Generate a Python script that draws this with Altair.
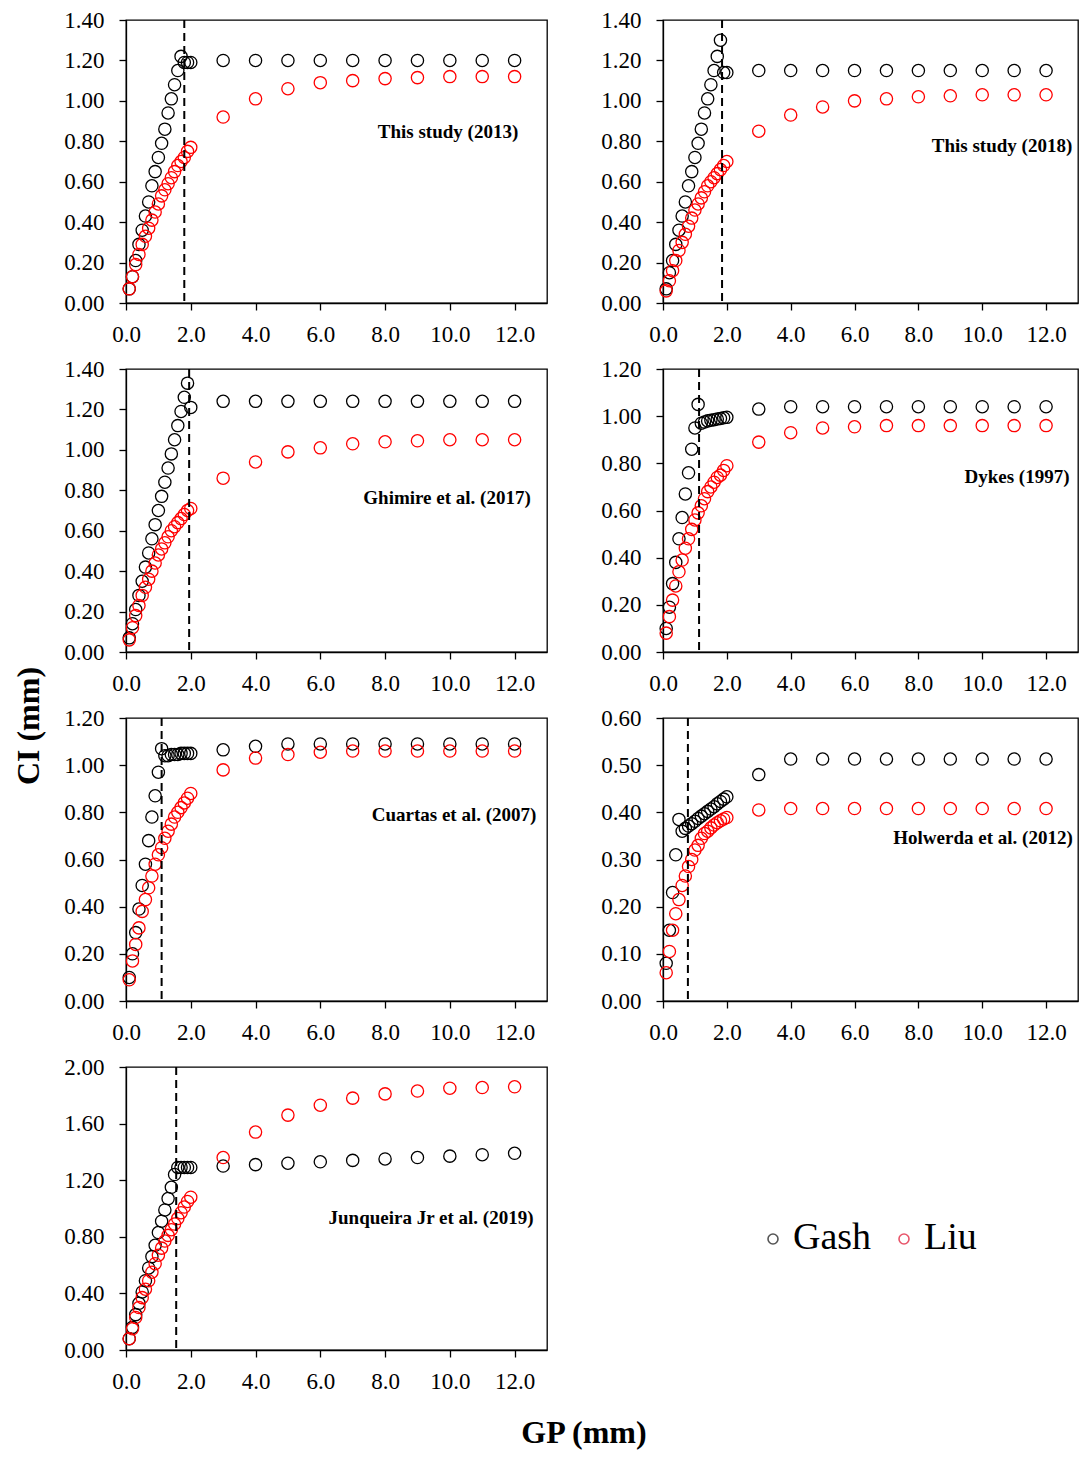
import altair as alt
import pandas as pd

SERIF = "Liberation Serif"

SERIES = ["Gash", "Liu"]

GP = [0.1, 0.2, 0.3, 0.4, 0.5, 0.6, 0.7, 0.8, 0.9, 1.0,
      1.1, 1.2, 1.3, 1.4, 1.5, 1.6, 1.7, 1.8, 1.9, 2.0,
      3.0, 4.0, 5.0, 6.0, 7.0, 8.0, 9.0, 10.0, 11.0, 12.0]

PANEL_TITLES = ["This study (2013)", "This study (2018)", "Ghimire et al. (2017)",
                "Dykes (1997)", "Cuartas et al. (2007)", "Holwerda et al. (2012)",
                "Junqueira Jr et al. (2019)"]

GASH_2013 = [0.07, 0.13, 0.21, 0.29, 0.36, 0.43, 0.50, 0.58, 0.65, 0.72,
             0.79, 0.86, 0.94, 1.01, 1.08, 1.15, 1.22, 1.19, 1.19, 1.19,
             1.20, 1.20, 1.20, 1.20, 1.20, 1.20, 1.20, 1.20, 1.20, 1.20]
LIU_2013 = [0.07, 0.13, 0.19, 0.24, 0.29, 0.33, 0.37, 0.41, 0.45, 0.49,
            0.53, 0.56, 0.59, 0.62, 0.65, 0.68, 0.70, 0.72, 0.75, 0.77,
            0.92, 1.01, 1.06, 1.09, 1.10, 1.11, 1.115, 1.12, 1.12, 1.12]

GASH_2018 = [0.07, 0.15, 0.21, 0.29, 0.36, 0.43, 0.50, 0.58, 0.65, 0.72,
             0.79, 0.86, 0.94, 1.01, 1.08, 1.15, 1.22, 1.30, 1.14, 1.14,
             1.15, 1.15, 1.15, 1.15, 1.15, 1.15, 1.15, 1.15, 1.15, 1.15]
LIU_2018 = [0.06, 0.11, 0.16, 0.21, 0.26, 0.30, 0.34, 0.38, 0.42, 0.46,
            0.49, 0.52, 0.55, 0.58, 0.60, 0.62, 0.64, 0.66, 0.68, 0.70,
            0.85, 0.93, 0.97, 1.00, 1.01, 1.02, 1.025, 1.03, 1.03, 1.03]

GASH_GHIMIRE = [0.07, 0.14, 0.21, 0.28, 0.35, 0.42, 0.49, 0.56, 0.63, 0.70,
                0.77, 0.84, 0.91, 0.98, 1.05, 1.12, 1.19, 1.26, 1.33, 1.21,
                1.24, 1.24, 1.24, 1.24, 1.24, 1.24, 1.24, 1.24, 1.24, 1.24]
LIU_GHIMIRE = [0.06, 0.12, 0.18, 0.23, 0.28, 0.32, 0.36, 0.40, 0.44, 0.48,
               0.51, 0.54, 0.57, 0.60, 0.62, 0.64, 0.66, 0.68, 0.70, 0.71,
               0.86, 0.94, 0.99, 1.01, 1.03, 1.04, 1.045, 1.05, 1.05, 1.05]

GASH_DYKES = [0.10, 0.19, 0.29, 0.38, 0.48, 0.57, 0.67, 0.76, 0.86, 0.95,
              1.05, 0.97, 0.975, 0.98, 0.983, 0.985, 0.988, 0.99, 0.993, 0.995,
              1.03, 1.04, 1.04, 1.04, 1.04, 1.04, 1.04, 1.04, 1.04, 1.04]
LIU_DYKES = [0.08, 0.15, 0.22, 0.28, 0.34, 0.39, 0.44, 0.48, 0.52, 0.56,
             0.59, 0.62, 0.65, 0.68, 0.70, 0.72, 0.74, 0.75, 0.77, 0.79,
             0.89, 0.93, 0.95, 0.955, 0.96, 0.96, 0.96, 0.96, 0.96, 0.96]

GASH_CUARTAS = [0.10, 0.20, 0.29, 0.39, 0.49, 0.58, 0.68, 0.78, 0.87, 0.97,
                1.07, 1.04, 1.04, 1.045, 1.045, 1.045, 1.05, 1.05, 1.05, 1.05,
                1.065, 1.08, 1.09, 1.09, 1.09, 1.09, 1.09, 1.09, 1.09, 1.09]
LIU_CUARTAS = [0.09, 0.17, 0.24, 0.31, 0.38, 0.43, 0.48, 0.53, 0.58, 0.62,
               0.65, 0.69, 0.72, 0.75, 0.78, 0.80, 0.82, 0.84, 0.86, 0.88,
               0.98, 1.03, 1.045, 1.055, 1.06, 1.06, 1.06, 1.06, 1.06, 1.06]

GASH_HOLWERDA = [0.08, 0.15, 0.23, 0.31, 0.385, 0.36, 0.366, 0.371, 0.376, 0.381,
                 0.387, 0.392, 0.397, 0.402, 0.407, 0.412, 0.418, 0.423, 0.428, 0.433,
                 0.48, 0.513, 0.513, 0.513, 0.513, 0.513, 0.513, 0.513, 0.513, 0.513]
LIU_HOLWERDA = [0.06, 0.105, 0.15, 0.185, 0.215, 0.245, 0.265, 0.285, 0.30, 0.32,
                0.33, 0.345, 0.355, 0.36, 0.367, 0.373, 0.378, 0.382, 0.386, 0.389,
                0.405, 0.408, 0.408, 0.408, 0.408, 0.408, 0.408, 0.408, 0.408, 0.408]

GASH_JUNQUEIRA = [0.08, 0.16, 0.25, 0.33, 0.41, 0.49, 0.58, 0.66, 0.74, 0.83,
                  0.91, 0.99, 1.07, 1.15, 1.24, 1.29, 1.29, 1.29, 1.29, 1.29,
                  1.30, 1.31, 1.32, 1.33, 1.34, 1.35, 1.36, 1.37, 1.38, 1.39]
LIU_JUNQUEIRA = [0.08, 0.15, 0.23, 0.30, 0.37, 0.43, 0.49, 0.55, 0.61, 0.67,
                 0.72, 0.77, 0.81, 0.85, 0.89, 0.93, 0.97, 1.01, 1.05, 1.08,
                 1.36, 1.54, 1.66, 1.73, 1.78, 1.81, 1.83, 1.85, 1.855, 1.86]

GASH = [GASH_2013, GASH_2018, GASH_GHIMIRE, GASH_DYKES, GASH_CUARTAS, GASH_HOLWERDA, GASH_JUNQUEIRA]
LIU = [LIU_2013, LIU_2018, LIU_GHIMIRE, LIU_DYKES, LIU_CUARTAS, LIU_HOLWERDA, LIU_JUNQUEIRA]

DASH_GP = [1.8, 1.85, 1.95, 1.13, 1.1, 0.78, 1.55]

X_TICKS = [0, 2, 4, 6, 8, 10, 12]
Y_TICKS_140 = [0.0, 0.2, 0.4, 0.6, 0.8, 1.0, 1.2, 1.4]
Y_TICKS_120 = [0.0, 0.2, 0.4, 0.6, 0.8, 1.0, 1.2]
Y_TICKS_060 = [0.0, 0.1, 0.2, 0.3, 0.4, 0.5, 0.6]
Y_TICKS_200 = [0.0, 0.4, 0.8, 1.2, 1.6, 2.0]
Y_TICKS = [Y_TICKS_140, Y_TICKS_140, Y_TICKS_140, Y_TICKS_120, Y_TICKS_120, Y_TICKS_060, Y_TICKS_200]

# layout (pixels, relative to each panel's plot area)
W_LEFT, W_RIGHT, H = 421, 415, 283
LABEL_POS = [(322, 112), (339, 126), (321, 129), (354, 108), (328, 97), (320, 120), (305, 151)]


def panel(i, extra):
    n = len(GP)
    df = pd.DataFrame({
        "gp": GP + GP,
        "ci": GASH[i] + LIU[i],
        "series": [SERIES[0]] * n + [SERIES[1]] * n,
    })
    x = alt.X("gp:Q", scale=alt.Scale(domain=[0, 13], nice=False),
              axis=alt.Axis(values=X_TICKS, format=".1f", title=None, labelFlush=False))
    y = alt.Y("ci:Q", scale=alt.Scale(domain=[0, Y_TICKS[i][-1]], nice=False),
              axis=alt.Axis(values=Y_TICKS[i], format=".2f", title=None))
    pts = alt.Chart(df).mark_point(shape="circle", filled=False, size=150,
                                   strokeWidth=1.3, opacity=1).encode(
        x=x, y=y,
        color=alt.Color("series:N", scale=alt.Scale(domain=SERIES, range=["#000000", "#ff0000"]),
                        legend=None),
    )
    rule = alt.Chart(pd.DataFrame({"gp": [DASH_GP[i]]})).mark_rule(
        color="black", strokeDash=[8, 5], strokeWidth=2).encode(x=x)
    lx, ly = LABEL_POS[i]
    txt = alt.Chart(pd.DataFrame({"label": [PANEL_TITLES[i]]})).mark_text(
        font=SERIF, fontSize=19, fontWeight="bold", align="center", baseline="middle",
        color="black").encode(text="label:N", x=alt.value(lx), y=alt.value(ly))
    w = W_LEFT if i % 2 == 0 else W_RIGHT
    return alt.layer(pts, rule, txt, *extra).properties(width=w, height=H)


ci_title = alt.Chart(pd.DataFrame({"t": ["CI (mm)"]})).mark_text(
    font=SERIF, fontSize=32, fontWeight="bold", angle=270, align="center", baseline="middle",
    color="black").encode(text="t:N", x=alt.value(-97), y=alt.value(8))
gp_title = alt.Chart(pd.DataFrame({"t": ["GP (mm)"]})).mark_text(
    font=SERIF, fontSize=32, fontWeight="bold", align="center", baseline="middle",
    color="black").encode(text="t:N", x=alt.value(458), y=alt.value(366))

panels = []
for i in range(7):
    extra = []
    if i == 4:
        extra = [ci_title]
    if i == 6:
        extra = [gp_title]
    panels.append(panel(i, extra))

leg_df = pd.DataFrame({"series": SERIES})
leg_x = alt.X("series:N", scale=alt.Scale(domain=SERIES, range=[110, 241], padding=0), axis=None)
leg_pts = alt.Chart(leg_df).mark_point(shape="circle", filled=False, size=100,
                                       strokeWidth=1.6, opacity=1).encode(
    x=leg_x, y=alt.value(172),
    color=alt.Color("series:N", scale=alt.Scale(domain=SERIES, range=["#555555", "#e8556a"]),
                    legend=None),
)
leg_txt = alt.Chart(leg_df).mark_text(font=SERIF, fontSize=38, align="left", baseline="middle",
                                      dx=20, color="black").encode(
    x=leg_x, y=alt.value(171), text="series:N")
legend_panel = alt.layer(leg_pts, leg_txt).properties(
    width=W_RIGHT, height=H, view=alt.ViewBackground(strokeWidth=0, strokeOpacity=0))
panels.append(legend_panel)

chart = alt.concat(*panels, columns=2, spacing={"row": 66, "column": 116}, bounds="flush").resolve_scale(
    x="independent", y="independent", color="independent"
).configure_axis(
    labelFont=SERIF, labelFontSize=23, labelColor="black", domainColor="black",
    tickColor="black", domainWidth=1.3, tickWidth=1.3, tickSize=7, grid=False,
    labelOverlap=False,
).configure_axisX(labelPadding=13).configure_axisY(labelPadding=15).configure_view(
    stroke="black", strokeWidth=1.3
).properties(padding={"left": 4, "top": 0, "right": 0, "bottom": 0})

chart.save("out.html", embed_options={"renderer": "svg", "actions": False})
